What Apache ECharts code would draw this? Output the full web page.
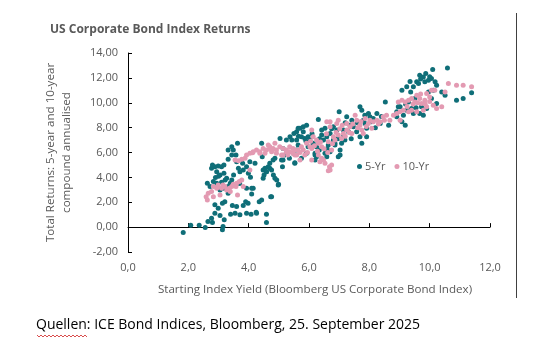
<!DOCTYPE html>
<html>
<head>
<meta charset="utf-8">
<script src="https://cdn.jsdelivr.net/npm/echarts@6/dist/echarts.min.js"></script>
<style>
  html, body { margin: 0; padding: 0; background: #fff; }
  #chart { width: 539px; height: 351px; }
</style>
</head>
<body>
<div id="chart"></div>
<script>
// axis ticks
var xTicks = [0, 2, 4, 6, 8, 10, 12];
var yTicks = [-2, 0, 2, 4, 6, 8, 10, 12, 14];

// 5-Yr: [starting yield, annualised return]
var fiveYr = [
  [1.83, -0.43], [2.08, 0.16], [2.36, 0.16], [2.56, -0.03], [2.65, 0.45], [2.80, 0.37], [2.88, 1.12],
  [2.77, 0.72], [3.13, -0.22], [3.15, 0.05], [3.19, 0.59], [3.05, 0.93], [3.40, 1.04], [3.55, 1.12],
  [3.71, 0.99], [3.93, 1.12], [4.08, 1.04], [4.25, 1.20], [4.59, 1.04], [4.59, 0.37], [3.13, 1.92],
  [3.21, 2.05], [3.46, 1.73], [3.60, 1.65], [3.82, 1.73], [3.90, 2.05], [3.98, 1.92], [4.26, 1.12],
  [4.35, 2.05], [4.43, 2.19], [4.73, 2.45], [4.10, 2.67], [4.15, 3.13], [2.88, 1.80], [2.99, 1.52],
  [2.63, 3.53], [2.72, 3.26], [2.83, 3.66], [2.94, 3.53], [2.77, 4.73], [2.80, 5.00], [2.88, 4.86],
  [2.99, 4.92], [3.10, 4.86], [3.18, 5.00], [2.94, 4.46], [3.05, 4.19], [3.18, 4.33], [3.27, 3.93],
  [3.32, 6.20], [3.44, 6.46], [3.49, 6.20], [3.58, 5.80], [3.63, 6.74], [3.44, 5.80], [3.32, 5.45],
  [3.22, 3.79], [3.39, 3.53], [3.44, 3.79], [3.32, 3.26], [3.18, 3.13], [3.05, 2.99], [3.32, 2.73],
  [3.60, 5.26], [3.66, 4.73], [3.71, 4.46], [3.80, 5.13], [3.82, 4.59], [3.93, 4.86], [3.99, 4.33],
  [4.06, 4.01], [3.93, 3.13], [4.10, 3.13], [4.43, 6.74], [4.45, 5.66], [4.54, 4.73], [4.51, 4.19],
  [4.59, 4.46], [4.65, 4.86], [4.70, 5.13], [4.76, 4.59], [4.82, 4.19], [4.93, 3.79], [4.99, 3.44],
  [4.87, 5.53], [5.04, 7.13], [5.09, 5.40], [5.12, 4.86], [5.20, 5.80], [5.35, 5.53], [5.48, 5.93],
  [5.37, 7.27], [5.50, 7.53], [5.59, 7.67], [5.64, 7.94], [5.53, 5.18], [5.59, 6.20], [5.43, 7.00],
  [4.04, 5.26], [4.21, 5.13], [4.48, 4.59], [4.59, 4.46], [4.70, 4.73], [4.81, 5.40], [4.87, 3.93],
  [4.98, 3.39], [5.14, 5.40], [4.48, 3.93], [4.76, 2.45], [5.81, 7.67], [5.97, 7.27], [5.75, 7.27],
  [6.09, 6.46], [6.20, 5.80], [6.42, 7.40], [6.70, 6.06], [6.86, 6.60], [7.03, 5.80], [6.81, 8.07],
  [7.14, 7.80], [6.59, 5.66], [5.25, 7.00], [5.14, 6.33], [5.70, 7.94], [5.81, 8.07], [5.92, 8.20],
  [5.59, 7.00], [5.64, 6.60], [5.86, 7.13], [6.03, 7.00], [6.14, 6.74], [6.25, 6.46], [6.20, 5.93],
  [6.25, 5.66], [6.34, 6.20], [6.31, 8.66], [6.42, 7.80], [6.53, 7.94], [6.59, 7.27], [6.70, 7.53],
  [6.81, 7.00], [6.86, 6.74], [6.92, 7.80], [7.00, 9.27], [7.03, 6.20], [6.97, 5.66], [7.14, 7.27],
  [7.25, 8.87], [7.31, 7.67], [7.42, 8.60], [7.47, 8.07], [7.58, 7.67], [7.69, 9.67], [7.75, 9.40],
  [7.80, 8.60], [7.86, 8.34], [7.91, 7.94], [7.97, 9.14], [8.02, 8.87], [8.08, 8.47], [8.13, 8.74],
  [7.75, 6.74], [7.91, 7.27], [8.25, 9.14], [8.36, 8.34], [8.53, 10.07], [8.64, 8.20], [8.91, 9.27],
  [9.02, 9.67], [9.08, 8.47], [9.19, 8.20], [9.08, 11.01], [9.24, 11.28], [9.30, 10.07], [9.37, 10.87],
  [9.46, 11.28], [9.57, 11.68], [9.63, 11.55], [9.51, 10.34], [9.67, 12.21], [9.79, 12.08], [9.87, 12.35],
  [9.96, 11.81], [9.84, 11.68], [10.06, 11.95], [10.18, 11.68], [10.10, 12.68], [10.23, 11.41],
  [10.12, 11.01], [9.96, 10.87], [10.06, 10.34], [10.23, 9.94], [10.40, 10.87], [10.51, 10.60],
  [10.59, 12.80], [10.89, 10.21], [11.11, 10.34], [11.39, 10.80], [9.73, 9.67], [9.67, 9.14],
  [9.79, 9.00], [9.90, 9.54], [9.46, 9.14], [9.40, 9.54], [9.24, 9.40], [9.13, 9.00], [8.96, 9.67],
  [8.91, 8.87], [6.53, 5.93], [6.48, 7.00], [6.64, 6.60], [6.20, 5.40], [7.08, 6.74], [7.19, 7.00],
  [7.36, 8.20], [7.69, 7.27], [5.92, 5.93], [5.75, 5.53], [5.53, 5.13], [5.97, 6.46],
  [5.65, 7.30], [5.90, 6.90], [6.10, 7.50], [6.35, 7.10], [6.60, 6.30], [6.75, 7.90], [6.95, 7.10],
  [7.20, 8.40], [7.40, 7.10], [7.60, 8.40], [7.85, 9.00], [8.20, 8.00], [8.40, 8.90], [9.20, 9.90],
  [9.55, 9.60], [9.35, 11.70], [9.70, 11.90], [10.00, 12.10], [3.00, 4.10], [3.10, 3.60], [2.90, 4.00],
  [3.50, 4.20], [3.70, 3.50]
];

// 10-Yr: [starting yield, annualised return]
var tenYr = [
  [2.59, 2.45], [2.63, 2.19], [2.66, 2.73], [2.77, 2.86], [2.83, 3.26], [2.94, 3.13], [2.99, 3.39],
  [3.10, 3.13], [3.15, 3.39], [3.21, 3.26], [3.27, 2.99], [3.36, 3.13], [3.39, 2.86], [3.44, 3.26],
  [3.49, 3.44], [3.58, 3.26], [3.60, 3.53], [3.69, 3.66], [3.77, 3.79], [3.82, 3.26], [3.63, 2.59],
  [2.83, 2.45], [3.05, 2.59], [3.55, 5.40], [3.66, 5.34], [3.77, 5.45], [3.88, 5.53], [3.93, 5.80],
  [4.04, 5.93], [4.13, 5.98], [4.26, 6.20], [4.37, 6.06], [4.48, 6.33], [4.59, 6.20], [4.70, 6.46],
  [4.81, 6.33], [4.92, 6.20], [5.03, 6.46], [5.14, 6.33], [5.25, 6.20], [5.36, 6.06], [5.47, 6.33],
  [5.64, 6.20], [4.54, 5.93], [4.76, 6.06], [5.09, 5.80], [4.87, 6.74], [4.65, 6.60], [5.53, 5.80],
  [4.04, 4.59], [4.15, 6.06], [4.37, 5.93], [4.70, 6.33], [4.92, 5.93], [5.25, 6.06], [6.09, 5.40],
  [6.36, 5.26], [6.70, 4.59], [6.75, 5.00], [7.25, 8.34], [6.97, 8.60], [6.70, 8.47],
  [5.14, 5.80], [5.36, 6.46], [5.47, 5.93], [5.59, 5.80], [5.70, 5.40], [5.81, 6.20], [5.92, 6.74],
  [6.03, 6.46], [6.09, 7.80], [6.14, 7.27], [6.25, 7.00], [6.31, 6.74], [6.42, 6.46], [6.48, 5.40],
  [6.53, 5.13], [6.68, 4.86], [6.64, 4.54], [6.59, 8.47], [6.70, 8.07], [6.81, 7.27], [6.86, 7.00],
  [6.97, 7.40], [6.92, 8.34], [7.08, 7.13], [7.14, 7.53], [7.25, 7.80], [7.36, 8.07], [7.42, 7.53],
  [7.53, 9.00], [7.58, 8.60], [7.69, 8.20], [7.75, 7.80], [7.80, 7.53], [7.86, 8.74], [7.97, 8.34],
  [8.08, 7.94], [8.13, 8.47], [8.25, 8.60], [8.36, 8.47], [8.46, 8.87], [8.57, 9.00], [8.68, 8.60],
  [8.96, 10.07], [9.08, 10.21], [9.19, 10.07], [9.30, 10.21], [9.40, 10.34], [9.51, 10.07], [9.57, 10.60],
  [9.67, 10.34], [9.73, 9.94], [9.84, 10.21], [9.90, 10.74], [10.00, 10.47], [10.06, 11.01], [10.17, 11.01],
  [10.12, 9.80], [10.23, 9.54], [10.40, 9.67], [10.51, 10.87], [10.62, 11.55], [10.89, 11.41],
  [11.11, 11.41], [11.39, 11.28], [8.91, 9.14], [9.02, 9.27], [9.13, 9.40], [9.30, 9.27], [9.40, 9.40],
  [9.57, 9.27], [9.79, 9.40], [9.02, 8.60], [9.90, 9.67], [5.53, 6.20], [6.31, 5.80], [6.42, 5.53],
  [6.09, 6.33], [6.75, 6.20], [6.64, 6.86], [5.75, 6.46], [5.86, 5.80],
  [5.95, 6.00], [6.05, 6.90], [6.18, 6.55], [6.28, 6.10], [6.38, 6.85], [6.50, 6.30], [6.58, 7.50],
  [6.62, 6.00], [6.78, 6.70], [6.90, 7.60], [7.02, 7.90], [7.10, 8.20], [7.20, 7.30], [7.33, 7.60],
  [7.45, 8.30], [7.62, 8.00], [7.72, 8.50], [7.90, 8.10], [8.02, 8.60], [8.30, 8.30], [8.50, 8.60],
  [8.80, 9.00], [9.25, 9.70], [9.45, 9.90], [9.60, 10.00], [9.85, 9.90], [10.00, 10.10], [9.70, 10.70],
  [5.70, 6.00], [5.30, 5.80]
];

var grey = '#595959';
var fnt = 'Open Sans';
var comma = function (d) { return function (v) { return v.toFixed(d).replace('.', ','); }; };

var chart = echarts.init(document.getElementById('chart'));
chart.setOption({
  animation: false,
  textStyle: { fontFamily: fnt },
  title: {
    text: 'US Corporate Bond Index Returns',
    left: 45, top: 19,
    textStyle: { fontSize: 12, fontWeight: 'bold', color: grey, fontFamily: fnt }
  },
  legend: {
    left: 352, top: 156,
    icon: 'circle', itemWidth: 5, itemHeight: 5, itemGap: 9,
    textStyle: { fontSize: 11, color: grey, padding: [0, 0, 0, -2] },
    data: ['5-Yr', '10-Yr']
  },
  grid: { left: 128, right: 49, top: 53, bottom: 99 },
  xAxis: [
    {   // line through zero, ticks only
      type: 'value', min: xTicks[0], max: xTicks[xTicks.length - 1], interval: 2,
      axisLine: { onZero: true, lineStyle: { color: '#000', width: 1 } },
      axisTick: { inside: true, length: 4, lineStyle: { color: '#000' } },
      axisLabel: { show: false },
      splitLine: { show: false }
    },
    {   // labels at the bottom
      type: 'value', position: 'bottom', min: xTicks[0], max: xTicks[xTicks.length - 1], interval: 2,
      axisLine: { show: false, onZero: false },
      axisTick: { show: false },
      axisLabel: { color: grey, fontSize: 11, margin: 10, formatter: comma(1) },
      splitLine: { show: false },
      name: 'Starting Index Yield (Bloomberg US Corporate Bond Index)',
      nameLocation: 'middle', nameGap: 32,
      nameTextStyle: { color: grey, fontSize: 11.6, padding: [0, 0, 0, 12] }
    }
  ],
  yAxis: {
    type: 'value', min: yTicks[0], max: yTicks[yTicks.length - 1], interval: 2,
    axisLine: { show: true, lineStyle: { color: '#000', width: 1 } },
    axisTick: { show: true, inside: true, length: 4, lineStyle: { color: '#000' } },
    axisLabel: { color: grey, fontSize: 11, margin: 10, formatter: comma(2) },
    splitLine: { show: false },
    name: 'Total Returns: 5-year and 10-year\ncompound annualised',
    nameLocation: 'middle', nameGap: 53,
    nameTextStyle: { color: grey, fontSize: 11.6, lineHeight: 16 }
  },
  series: [
    { name: '5-Yr', type: 'scatter', xAxisIndex: 0, symbolSize: 5,
      itemStyle: { color: '#0f6e78', opacity: 1 }, data: fiveYr },
    { name: '10-Yr', type: 'scatter', xAxisIndex: 0, symbolSize: 5,
      itemStyle: { color: '#e39ab2', opacity: 1 }, data: tenYr }
  ],
  graphic: [
    { type: 'line', shape: { x1: 516.5, y1: 13, x2: 516.5, y2: 298 }, style: { stroke: '#404040', lineWidth: 1 } },
    { type: 'text', left: 36, top: 318,
      style: { text: 'Quellen: ICE Bond Indices, Bloomberg, 25. September 2025', fill: '#000', fontSize: 14, fontFamily: fnt } },
    { type: 'polyline', shape: { points: [[37,335],[39,337],[41,335],[43,337],[45,335],[47,337],[49,335],[51,337],[53,335],[55,337],[57,335],[59,337],[61,335],[63,337],[65,335],[67,337],[69,335],[71,337],[73,335],[75,337],[77,335],[79,337],[81,335],[83,337],[85,335],[87,337]] },
      style: { stroke: '#d02020', lineWidth: 0.8, fill: null } }
  ]
});
</script>
</body>
</html>
